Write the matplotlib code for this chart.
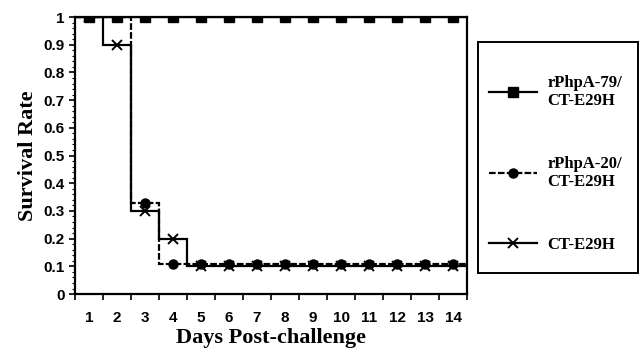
import matplotlib
matplotlib.use('Agg')
import matplotlib.pyplot as plt
from matplotlib.ticker import MultipleLocator, FixedLocator
from matplotlib.patches import Rectangle
import numpy as np

# survival rate per day
days = np.arange(1, 15)
php79 = [1.0] * 14
php20 = [1.0, 1.0, 0.33, 0.11, 0.11, 0.11, 0.11, 0.11, 0.11, 0.11, 0.11, 0.11, 0.11, 0.11]
ct = [1.0, 0.9, 0.3, 0.2, 0.1, 0.1, 0.1, 0.1, 0.1, 0.1, 0.1, 0.1, 0.1, 0.1]
labels = ['rPhpA-79/\nCT-E29H', 'rPhpA-20/\nCT-E29H', 'CT-E29H']

fig = plt.figure(figsize=(6.4, 3.48), dpi=100)
ax = fig.add_axes([0.117, 0.155, 0.613, 0.796])

edges = np.arange(0, 15)
centers = days - 0.5

series = [(php79, 's', '-', 7), (php20, 'o', (0, (3, 1)), 6.5), (ct, 'x', '-', 7)]
leg_handles = []
for vals, mk, ls, ms in series:
    ax.stairs(vals, edges, color='black', linewidth=1.6, linestyle=ls, baseline=None)
    mew = 1.4 if mk == 'x' else 1
    ax.plot(centers, vals, linestyle='none', color='black', marker=mk, markersize=ms,
            markeredgewidth=mew)
    leg_handles.append(plt.Line2D([], [], color='black', linestyle=ls, linewidth=1.6,
                                  marker=mk, markersize=ms, markeredgewidth=mew))

ax.set_xlim(0, 14)
ax.set_ylim(0, 1)
ax.xaxis.set_major_locator(FixedLocator(edges))
ax.xaxis.set_minor_locator(FixedLocator(centers))
ax.set_xticklabels([])
ax.set_xticklabels([str(d) for d in days], minor=True)
ax.tick_params(axis='x', which='major', direction='out', length=4, width=1.2)
ax.tick_params(axis='x', which='minor', length=0, pad=12)
yt = np.round(np.arange(0, 1.01, 0.1), 1)
ax.set_yticks(yt)
ax.set_yticklabels(['0' if v == 0 else ('1' if v == 1 else f'{v:.1f}') for v in yt])
ax.yaxis.set_minor_locator(MultipleLocator(0.02))
ax.tick_params(axis='y', which='major', direction='out', length=4, width=1.2)
ax.tick_params(axis='y', which='minor', direction='out', length=2, width=0.8)
for lab in ax.get_xticklabels(minor=True) + ax.get_yticklabels():
    lab.set_fontfamily('Liberation Sans')
    lab.set_fontweight('bold')
    lab.set_fontsize(11)
for sp in ax.spines.values():
    sp.set_linewidth(1.6)

ax.set_xlabel('Days Post-challenge', fontfamily='Liberation Serif', fontweight='bold',
              fontsize=16, labelpad=2)
ax.set_ylabel('Survival Rate', fontfamily='Liberation Serif', fontweight='bold',
              fontsize=16, labelpad=4)

# legend box
fig.patches.append(Rectangle((478 / 640, 1 - 273 / 348), 160 / 640, 231 / 348,
                             transform=fig.transFigure, fill=False, edgecolor='black',
                             linewidth=1.4))
fig.legend(leg_handles, labels, loc='upper left', bbox_to_anchor=(489 / 640, 1 - 75 / 348),
           prop={'family': 'Liberation Serif', 'weight': 'bold', 'size': 12},
           frameon=False, labelspacing=2.8, handlelength=2.9, handletextpad=0.6,
           borderpad=0, borderaxespad=0)

fig.savefig('out.png', dpi=100)
